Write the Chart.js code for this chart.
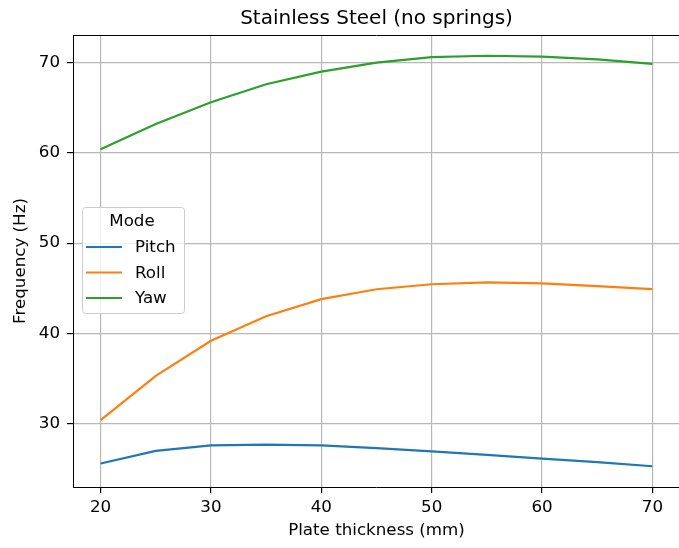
<!DOCTYPE html>
<html>
<head>
<meta charset="utf-8">
<script src="https://cdn.jsdelivr.net/npm/chart.js@4/dist/chart.umd.min.js"></script>
<style>
    html, body { margin: 0; padding: 0; background: #fff; overflow: hidden; }
    #wrap { width: 682px; height: 548px; position: relative; }
</style>
</head>
<body>
<div id="wrap"><canvas id="myChart" width="682" height="548"></canvas></div>
<script>
// plate thickness (mm)
const thickness = [20, 25, 30, 35, 40, 45, 50, 55, 60, 65, 70];
const pitch = [25.6, 27.0, 27.6, 27.7, 27.6, 27.3, 26.95, 26.55, 26.15, 25.75, 25.3];
const roll = [30.4, 35.3, 39.2, 41.9, 43.8, 44.9, 45.45, 45.65, 45.55, 45.25, 44.9];
const yaw = [60.4, 63.2, 65.6, 67.6, 69.0, 70.0, 70.6, 70.75, 70.65, 70.35, 69.85];
const xTicks = [20, 30, 40, 50, 60, 70];
const yTicks = [30, 40, 50, 60, 70];
const modes = ['Pitch', 'Roll', 'Yaw'];
const colors = ['#1f77b4', '#ff7f0e', '#2ca02c'];
const chartTitle = 'Stainless Steel (no springs)';

const fontFamily = "'DejaVu Sans', sans-serif";
const fontSize = 16.7;

function toPoints(values) {
    return values.map((v, i) => ({ x: thickness[i], y: v }));
}

// title centred over the axes + top/right spines, like matplotlib
const axesFrame = {
    id: 'axesFrame',
    afterDraw(chart) {
        const ctx = chart.ctx;
        const area = chart.chartArea;
        ctx.save();
        ctx.strokeStyle = '#000';
        ctx.lineWidth = 1;
        ctx.beginPath();
        ctx.moveTo(area.left, area.top + 0.5);
        ctx.lineTo(area.right, area.top + 0.5);
        ctx.lineTo(area.right, area.bottom);
        ctx.stroke();

        ctx.font = '20px ' + fontFamily;
        ctx.fillStyle = '#000';
        ctx.textAlign = 'center';
        ctx.textBaseline = 'alphabetic';
        ctx.fillText(chartTitle, (area.left + area.right) / 2, area.top - 11);
        ctx.restore();
    }
};

// matplotlib-style legend inside the axes (center left)
const legendBox = {
    id: 'legendBox',
    afterDraw(chart) {
        const ctx = chart.ctx;
        const area = chart.chartArea;
        const x0 = area.left + 9;
        const y0 = area.top + 172;
        const w = 102;
        const h = 106;
        ctx.save();
        ctx.beginPath();
        ctx.roundRect(x0 + 0.5, y0 + 0.5, w, h, 3);
        ctx.fillStyle = 'rgba(255,255,255,0.8)';
        ctx.fill();
        ctx.strokeStyle = '#cccccc';
        ctx.lineWidth = 1;
        ctx.stroke();

        ctx.font = fontSize + 'px ' + fontFamily;
        ctx.fillStyle = '#000';
        ctx.textBaseline = 'middle';
        ctx.textAlign = 'center';
        ctx.fillText('Mode', x0 + 50, y0 + 15);
        ctx.textAlign = 'left';
        for (i = 0; i < modes.length; i++) {
            const yy = y0 + 40 + i * 25.5;
            ctx.beginPath();
            ctx.moveTo(x0 + 4, yy);
            ctx.lineTo(x0 + 40, yy);
            ctx.strokeStyle = colors[i];
            ctx.lineWidth = 2.2;
            ctx.stroke();
            ctx.fillText(modes[i], x0 + 53, yy + 1);
        }
        ctx.restore();
    }
};

const ctx = document.getElementById('myChart');

new Chart(ctx, {
    type: 'line',
    data: {
        datasets: [
            { label: 'Pitch', data: toPoints(pitch), borderColor: colors[0] },
            { label: 'Roll', data: toPoints(roll), borderColor: colors[1] },
            { label: 'Yaw', data: toPoints(yaw), borderColor: colors[2] }
        ]
    },
    options: {
        responsive: false,
        animation: false,
        devicePixelRatio: 1,
        elements: {
            line: { borderWidth: 2.2, tension: 0, fill: false },
            point: { radius: 0, hoverRadius: 0 }
        },
        layout: { padding: { left: 0, right: 2, top: 35, bottom: 0 } },
        plugins: {
            legend: { display: false },
            tooltip: { enabled: false },
            title: { display: false }
        },
        scales: {
            x: {
                type: 'linear',
                min: 17.5,
                max: 72.5,
                afterBuildTicks: (s) => { s.ticks = xTicks.map(v => ({ value: v })); },
                afterFit: (s) => { s.height = 61; },
                ticks: {
                    color: '#000',
                    font: { family: fontFamily, size: fontSize },
                    padding: 5,
                    maxRotation: 0,
                    autoSkip: false
                },
                grid: { color: '#b8b8b8', tickColor: '#000', tickLength: 6, lineWidth: 1.2 },
                border: { color: '#000', width: 1 },
                title: {
                    display: true,
                    text: 'Plate thickness (mm)',
                    color: '#000',
                    font: { family: fontFamily, size: fontSize },
                    padding: { top: 0, bottom: 7 }
                }
            },
            y: {
                type: 'linear',
                min: 23.0,
                max: 73.05,
                afterBuildTicks: (s) => { s.ticks = yTicks.map(v => ({ value: v })); },
                afterFit: (s) => { s.width = 73; },
                ticks: {
                    color: '#000',
                    font: { family: fontFamily, size: fontSize },
                    padding: 7,
                    autoSkip: false
                },
                grid: { color: '#b8b8b8', tickColor: '#000', tickLength: 6, lineWidth: 1.2 },
                border: { color: '#000', width: 1 },
                title: {
                    display: true,
                    text: 'Frequency (Hz)',
                    color: '#000',
                    font: { family: fontFamily, size: fontSize },
                    padding: { top: 11, bottom: 0 }
                }
            }
        }
    },
    plugins: [axesFrame, legendBox]
});
</script>
</body>
</html>
